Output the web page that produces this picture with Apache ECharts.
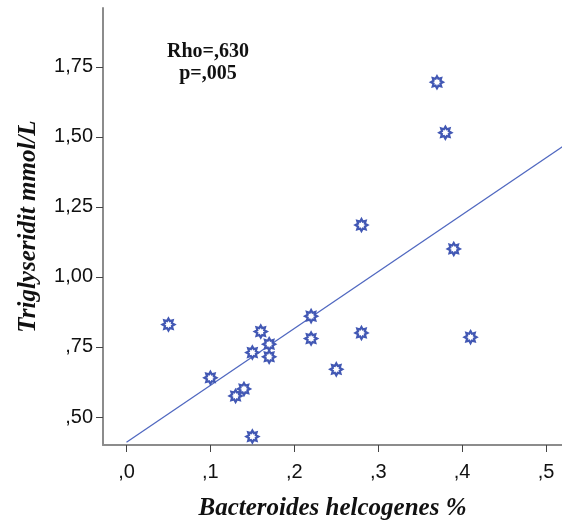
<!DOCTYPE html>
<html>
<head>
<meta charset="utf-8">
<script src="https://cdn.jsdelivr.net/npm/echarts@6/dist/echarts.min.js"></script>
<style>html,body{margin:0;padding:0;background:#fff}#c{width:562px;height:520px}</style>
</head>
<body>
<div id="c"></div>
<script>
// Data
const bacteroides = [0.05, 0.10, 0.13, 0.14, 0.15, 0.15, 0.16, 0.17, 0.17, 0.22, 0.22, 0.25, 0.28, 0.28, 0.37, 0.38, 0.39, 0.41];
const triglycerides = [0.83, 0.64, 0.575, 0.60, 0.73, 0.43, 0.805, 0.76, 0.715, 0.86, 0.78, 0.67, 0.80, 1.185, 1.695, 1.515, 1.10, 0.785];
const fitX = [0, 0.52];
const fitY = [0.41, 1.466];
const xTicks = [0, 0.1, 0.2, 0.3, 0.4, 0.5];
const yTicks = [0.5, 0.75, 1.0, 1.25, 1.5, 1.75];
const statLines = ['Rho=,630', 'p=,005'];

function starPath(n, r1, r2) {
  let p = [];
  for (let i = 0; i < n * 2; i++) {
    const a = Math.PI * i / n - Math.PI / 2;
    const r = i % 2 === 0 ? r1 : r2;
    p.push((i === 0 ? 'M' : 'L') + (Math.cos(a) * r).toFixed(3) + ' ' + (Math.sin(a) * r).toFixed(3));
  }
  return 'path://' + p.join(' ') + ' Z';
}

const fmt = (v, d) => {
  let s = v.toFixed(d);
  if (s.startsWith('0.')) s = s.slice(1);
  return s.replace('.', ',');
};

const chart = echarts.init(document.getElementById('c'), null, {renderer: 'canvas'});
const blue = '#4258b4';
chart.setOption({
  animation: false,
  grid: {left: 103, top: 8, right: 0, bottom: 75, containLabel: false, outerBoundsMode: 'none'},
  xAxis: {
    type: 'value', min: -0.028, max: 0.519,
    name: 'Bacteroides helcogenes %', nameLocation: 'middle', nameGap: 51,
    nameTextStyle: {fontFamily: 'Liberation Serif', fontStyle: 'italic', fontWeight: 'bold', fontSize: 25, color: '#111'},
    axisLine: {show: true, onZero: false, lineStyle: {color: '#8c8c8c', width: 2}},
    axisTick: {show: true, customValues: xTicks, length: 7, lineStyle: {color: '#444', width: 1}},
    axisLabel: {customValues: xTicks, formatter: v => fmt(v, 1), fontFamily: 'Liberation Sans', fontSize: 20, color: '#111', margin: 17},
    splitLine: {show: false}
  },
  yAxis: {
    type: 'value', min: 0.4, max: 1.96,
    name: 'Triglyseridit mmol/L', nameLocation: 'middle', nameGap: 62, nameRotate: 90,
    nameTextStyle: {fontFamily: 'Liberation Serif', fontStyle: 'italic', fontWeight: 'bold', fontSize: 25, color: '#111'},
    axisLine: {show: true, onZero: false, lineStyle: {color: '#8c8c8c', width: 2}},
    axisTick: {show: true, customValues: yTicks, length: 7, lineStyle: {color: '#444', width: 1}},
    axisLabel: {customValues: yTicks, formatter: v => fmt(v, 2), fontFamily: 'Liberation Sans', fontSize: 20, color: '#111', margin: 10},
    splitLine: {show: false}
  },
  graphic: [{
    type: 'text', x: 208, y: 41,
    style: {text: statLines.join('\n'), fontFamily: 'Liberation Serif', fontWeight: 'bold', fontSize: 20, lineHeight: 22, fill: '#111', align: 'center'}
  }],
  series: [
    {
      type: 'line', data: fitX.map((x, i) => [x, fitY[i]]), symbol: 'none',
      lineStyle: {color: '#5068c0', width: 1.3}, clip: true, z: 1
    },
    {
      type: 'scatter', data: bacteroides.map((x, i) => [x, triglycerides[i]]),
      symbol: starPath(8, 1, 0.62), symbolSize: 12,
      itemStyle: {color: '#ffffff', borderColor: blue, borderWidth: 2.2, opacity: 1}, z: 2
    }
  ]
});
</script>
</body>
</html>
